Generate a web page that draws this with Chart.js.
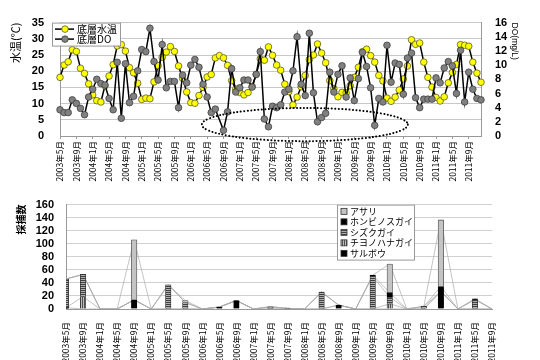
<!DOCTYPE html>
<html lang="ja">
<head>
<meta charset="utf-8">
<title>底層水温・底層DOと採捕数</title>
<script src="https://cdn.jsdelivr.net/npm/chart.js@4.4.1/dist/chart.umd.min.js"></script>
<style>
  html, body { margin: 0; padding: 0; background: #fff; }
  #wrap { position: relative; width: 540px; height: 360px; }
  #wrap canvas { position: absolute; left: 0; }
  #topChart { top: 0; }
  #botChart { top: 186px; }
</style>
</head>
<body>
<div id="wrap">
  <canvas id="topChart" width="540" height="186"></canvas>
  <canvas id="botChart" width="540" height="174"></canvas>
</div>
<script>
// monthly series, 2003年5月 .. 2011年12月
const START_YEAR = 2003, START_MONTH = 5;

const waterTemp = [
  18.1, 21.9, 22.9, 26.6, 26.1, 20.9, 19.3, 16.1,
  12.7, 10.9, 10.5, 15.5, 18.5, 22.0, 27.8, 28.2, 26.2, 21.1, 19.5, 16.3,
  11.3, 11.7, 11.5, 16.7, 21.7, 24.3, 25.9, 27.6, 26.1, 21.6, 17.8, 13.6,
  10.3, 10.1, 12.5, 15.0, 18.2, 19.0, 24.1, 24.8, 24.1, 21.8, 17.1, 14.5,
  13.4, 12.7, 13.4, 15.3, 19.0, 23.8, 23.4, 27.5, 24.9, 21.9, 20.3, 16.0,
  13.7, 9.6, 12.0, 15.2, 18.7, 23.6, 25.0, 28.4, 25.6, 22.6, 17.1, 14.6,
  12.1, 13.5, 13.3, 15.5, 18.1, 21.2, 26.0, 26.8, 24.8, 22.8, 18.7, 17.0,
  11.7, 10.7, 12.0, 14.2, 17.6, 21.6, 29.7, 28.3, 28.7, 22.8, 18.1, 15.1,
  11.9, 10.8, 12.1, 16.4, 19.6, 22.1, 28.2, 28.0, 27.7, 22.8, 19.4, 16.6
];

const bottomDO = [
  3.7, 3.3, 3.3, 5.1, 4.6, 3.9, 3.0, 5.5,
  6.6, 8.0, 7.4, 7.2, 5.3, 3.7, 10.4, 2.5, 10.2, 4.7, 5.6, 9.2,
  12.2, 11.9, 15.2, 10.5, 7.9, 12.9, 6.8, 7.7, 7.7, 4.0, 8.6, 7.5,
  10.0, 10.8, 9.7, 7.3, 5.5, 3.3, 3.8, null, 0.8, 3.4, 9.5, 6.2,
  6.8, 7.9, 7.9, 6.9, 8.7, 11.9, 2.4, 1.3, 4.2, 4.0, 4.4, 6.2,
  6.6, 9.2, 14.0, 7.3, 5.7, 14.5, 6.1, 2.0, 2.6, 3.2, 9.0, 6.2,
  8.7, 9.9, 5.5, 8.2, 5.0, 8.1, 11.8, 9.8, 6.8, 1.5, 5.3, 4.8,
  12.8, 7.6, 10.3, 10.1, 5.9, 11.0, 11.7, 5.4, 4.0, 5.2, 5.2, 5.2,
  8.2, 7.5, 9.6, 10.5, 9.9, 6.0, 12.1, 4.8, 9.0, 6.6, 5.3, 5.1
];

// survey every 4 months
const surveyLabels = [
  '2003年5月', '2003年9月', '2004年1月', '2004年5月', '2004年9月', '2005年1月',
  '2005年5月', '2005年9月', '2006年1月', '2006年5月', '2006年9月', '2007年1月',
  '2007年5月', '2007年9月', '2008年1月', '2008年5月', '2008年9月', '2009年1月',
  '2009年5月', '2009年9月', '2010年1月', '2010年5月', '2010年9月', '2011年1月',
  '2011年5月', '2011年9月'
];
const saruboo     = [2, 0, 0, 0, 14, 0, 0, 0, 0, 3, 13, 0, 0, 0, 0, 0, 6, 0, 0, 0, 0, 0, 27, 0, 0, 0];
const chiyonohana = [0, 19, 0, 0, 0, 0, 0, 0, 0, 0, 0, 0, 0, 1, 0, 0, 0, 0, 0, 8, 0, 0, 0, 0, 0, 0];
const shizuku     = [44, 34, 0, 0, 0, 0, 37, 10, 0, 0, 0, 0, 3.5, 0, 0, 26, 0, 0, 50, 10, 0, 4, 0, 0, 14, 0];
const honbinosu   = [0, 0, 0, 0, 0, 0, 0, 0, 0, 0, 0, 0, 0, 0, 0, 0, 0, 0, 2, 7, 0, 0, 7.5, 0, 1.5, 0];
const asari       = [0, 0, 0, 0, 92, 0, 0, 3, 0, 0, 0, 0, 0, 0, 0, 0, 0, 0, 0, 44, 0, 0, 102, 0, 0, 0];

// dotted ellipse around the low-DO period (month index / 水温 axis units)
const lowDoMark = { from: 34.7, to: 85.1, low: -1.6, high: 8.65 };

const months = [];
for (let i = 0; i < waterTemp.length; i++) {
  const m = START_MONTH - 1 + i;
  months.push(`${START_YEAR + Math.floor(m / 12)}年${(m % 12) + 1}月`);
}

Chart.defaults.font.family = "'Liberation Sans', 'Noto Sans CJK JP', sans-serif";
Chart.defaults.color = '#000';
Chart.defaults.animation = false;

const JP = "'Noto Sans CJK JP', sans-serif";
const tickFont = { family: "'Liberation Sans', Arial, sans-serif", size: 11, weight: 'bold' };
const dateFont = { family: JP, size: 8.5 };

// legend drawn as a framed box inside the plot
const boxLegend = {
  id: 'boxLegend',
  afterDraw(chart, args, o) {
    const { ctx, chartArea } = chart;
    const x = chartArea.left + o.dx, y = chartArea.top + o.dy;
    ctx.save();
    ctx.fillStyle = '#fff';
    ctx.fillRect(x, y, o.width, o.height);
    ctx.strokeStyle = '#999';
    ctx.lineWidth = 1;
    ctx.strokeRect(x + 0.5, y + 0.5, o.width, o.height);
    ctx.font = o.font;
    ctx.textBaseline = 'middle';
    o.order.forEach((di, k) => {
      const ds = chart.data.datasets[di];
      const cy = y + o.pad + o.rowHeight * (k + 0.5);
      if (o.kind === 'line') {
        ctx.strokeStyle = ds.borderColor;
        ctx.lineWidth = ds.borderWidth;
        ctx.beginPath();
        ctx.moveTo(x + 3, cy);
        ctx.lineTo(x + 22, cy);
        ctx.stroke();
        ctx.beginPath();
        ctx.arc(x + 13, cy, ds.pointRadius, 0, Math.PI * 2);
        ctx.fillStyle = ds.pointBackgroundColor;
        ctx.fill();
        ctx.lineWidth = ds.pointBorderWidth;
        ctx.strokeStyle = ds.pointBorderColor;
        ctx.stroke();
      } else {
        ctx.fillStyle = ds.backgroundColor;
        ctx.fillRect(x + 4, cy - 3, 6, 6);
        ctx.lineWidth = 0.8;
        ctx.strokeStyle = '#333';
        ctx.strokeRect(x + 4, cy - 3, 6, 6);
      }
      ctx.fillStyle = '#000';
      ctx.fillText(ds.label, x + o.textX, cy);
    });
    ctx.restore();
  }
};

const dottedEllipse = {
  id: 'dottedEllipse',
  afterDraw(chart, args, o) {
    const { ctx, scales } = chart;
    const x0 = scales.x.getPixelForValue(o.from), x1 = scales.x.getPixelForValue(o.to);
    const y0 = scales.y.getPixelForValue(o.high), y1 = scales.y.getPixelForValue(o.low);
    ctx.save();
    ctx.strokeStyle = '#000';
    ctx.lineWidth = 2;
    ctx.lineCap = 'round';
    ctx.setLineDash([0.1, 3.4]);
    ctx.beginPath();
    ctx.ellipse((x0 + x1) / 2, (y0 + y1) / 2, (x1 - x0) / 2, (y1 - y0) / 2, 0, 0, Math.PI * 2);
    ctx.stroke();
    ctx.restore();
  }
};

new Chart(document.getElementById('topChart'), {
  type: 'line',
  data: {
    labels: months,
    datasets: [
      { label: '底層水温', data: waterTemp, yAxisID: 'y', order: 1,
        borderColor: '#000', borderWidth: 1.5, tension: 0,
        pointRadius: 3.3, pointBackgroundColor: '#ffff00', pointBorderColor: '#5a5a30', pointBorderWidth: 0.8 },
      { label: '底層DO', data: bottomDO, yAxisID: 'y2', order: 0, spanGaps: true,
        borderColor: '#000', borderWidth: 1.5, tension: 0,
        pointRadius: 3.3, pointBackgroundColor: '#808080', pointBorderColor: '#404040', pointBorderWidth: 0.8 }
    ]
  },
  options: {
    responsive: false,
    layout: { padding: { top: 18, right: 0, bottom: 0, left: 0 } },
    plugins: {
      legend: { display: false },
      tooltip: { enabled: false },
      boxLegend: { kind: 'line', order: [0, 1], dx: -8, dy: 0, width: 68, height: 23, pad: 1.5, rowHeight: 10, textX: 25, font: `10px ${JP}` },
      dottedEllipse: lowDoMark
    },
    scales: {
      x: {
        grid: { drawOnChartArea: false, tickLength: 3, color: c => c.index % 4 === 0 ? '#999' : 'rgba(0,0,0,0)' },
        border: { color: '#999' },
        ticks: {
          autoSkip: false, maxRotation: 90, minRotation: 90, padding: 2, font: dateFont,
          callback(v, i) { return i % 4 === 0 ? this.getLabelForValue(v) : ''; }
        },
        afterFit(s) { s.height = 50; }
      },
      y: {
        position: 'left', min: 0, max: 35,
        ticks: { stepSize: 5, autoSkip: false, padding: 16, font: tickFont },
        grid: { color: '#c8c8c8', drawTicks: false },
        border: { color: '#999' },
        title: { display: true, text: '水温(℃)', align: 'end', font: { family: JP, size: 11 }, padding: { top: 9, bottom: 0 } },
        afterFit(s) { s.width = 60; }
      },
      y2: {
        position: 'right', min: 0, max: 16,
        ticks: { stepSize: 2, autoSkip: false, padding: 14, font: tickFont },
        grid: { drawOnChartArea: false, drawTicks: false },
        border: { color: '#999' },
        title: { display: true, text: 'DO(mg/L)', align: 'end', font: { family: "'Liberation Sans', Arial, sans-serif", size: 8.5 }, padding: { top: 21, bottom: 0 } },
        afterFit(s) { s.width = 59; }
      }
    }
  },
  plugins: [boxLegend, dottedEllipse]
});

// bar fills
const patCtx = document.getElementById('botChart').getContext('2d');
function stripes(dark, light, vertical) {
  const c = document.createElement('canvas');
  c.width = 2; c.height = 2;
  const g = c.getContext('2d');
  g.fillStyle = light; g.fillRect(0, 0, 2, 2);
  g.fillStyle = dark;
  if (vertical) g.fillRect(0, 0, 1, 2); else g.fillRect(0, 0, 2, 1);
  return patCtx.createPattern(c, 'repeat');
}

const species = [
  { label: 'サルボウ', data: saruboo, fill: '#000', edge: '#000' },
  { label: 'チヨノハナガイ', data: chiyonohana, fill: stripes('#505050', '#bdbdbd', true), edge: '#333' },
  { label: 'シズクガイ', data: shizuku, fill: stripes('#404040', '#b0b0b0', false), edge: '#333' },
  { label: 'ホンビノスガイ', data: honbinosu, fill: '#000', edge: '#000' },
  { label: 'アサリ', data: asari, fill: '#c4c4c4', edge: '#555' }
];

const barSets = species.map(s => ({
  type: 'bar', label: s.label, data: s.data, order: 0,
  backgroundColor: s.fill, borderColor: s.edge, borderWidth: 0.8, barThickness: 5.5
}));

// thin series lines joining the top of each stacked segment
let run = surveyLabels.map(() => 0);
const seriesLines = species.map((s, k) => {
  run = run.map((v, i) => v + s.data[i]);
  return {
    type: 'line', label: '', data: run.slice(), order: 1, stack: 'line' + k,
    borderColor: '#ababab', borderWidth: 0.7, pointRadius: 0, tension: 0
  };
});

new Chart(document.getElementById('botChart'), {
  type: 'bar',
  data: { labels: surveyLabels, datasets: barSets.concat(seriesLines) },
  options: {
    responsive: false,
    layout: { padding: { top: 15, right: 48, bottom: 0, left: 0 } },
    plugins: {
      legend: { display: false },
      tooltip: { enabled: false },
      boxLegend: { kind: 'box', order: [4, 3, 2, 1, 0], dx: 271, dy: 0, width: 77, height: 55, pad: 1.5, rowHeight: 10.5, textX: 13, font: `9px ${JP}` }
    },
    scales: {
      x: {
        stacked: true, offset: false,
        grid: { display: false },
        border: { color: '#999' },
        ticks: { autoSkip: false, maxRotation: 90, minRotation: 90, padding: 5, font: dateFont },
        afterFit(s) { s.height = 51; }
      },
      y: {
        stacked: true, min: 0, max: 160,
        ticks: { stepSize: 20, autoSkip: false, padding: 12, font: tickFont },
        grid: { color: '#d0d0d0', drawTicks: false },
        border: { color: '#999' },
        title: { display: true, text: '採捕数', align: 'end', font: { family: JP, size: 10, weight: 'bold' }, padding: { top: 15.5, bottom: 0 } },
        afterFit(s) { s.width = 66; }
      }
    }
  },
  plugins: [boxLegend]
});
</script>
</body>
</html>
